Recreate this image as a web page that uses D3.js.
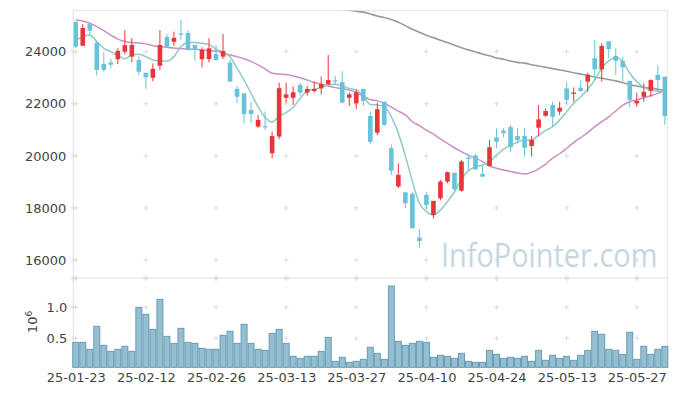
<!DOCTYPE html>
<html>
<head>
<meta charset="utf-8">
<script src="https://cdn.jsdelivr.net/npm/d3@7"></script>
<style>
  body { margin: 0; background: #fff; }
  text { font-family: "DejaVu Sans", sans-serif; }
</style>
</head>
<body>
<script>

const dates = [
  '25-01-23','25-01-24','25-01-31','25-02-03','25-02-04','25-02-05','25-02-06','25-02-07','25-02-10','25-02-11',
  '25-02-12','25-02-13','25-02-14','25-02-17','25-02-18','25-02-19','25-02-20','25-02-21','25-02-24','25-02-25',
  '25-02-26','25-02-27','25-02-28','25-03-04','25-03-05','25-03-06','25-03-07','25-03-10','25-03-11','25-03-12',
  '25-03-13','25-03-14','25-03-17','25-03-18','25-03-19','25-03-20','25-03-21','25-03-24','25-03-25','25-03-26',
  '25-03-27','25-03-28','25-03-31','25-04-01','25-04-02','25-04-03','25-04-04','25-04-07','25-04-08','25-04-09',
  '25-04-10','25-04-11','25-04-14','25-04-15','25-04-16','25-04-17','25-04-18','25-04-21','25-04-22','25-04-23',
  '25-04-24','25-04-25','25-04-28','25-04-29','25-04-30','25-05-02','25-05-07','25-05-08','25-05-09','25-05-12',
  '25-05-13','25-05-14','25-05-15','25-05-16','25-05-19','25-05-20','25-05-21','25-05-22','25-05-23','25-05-26',
  '25-05-27','25-05-28','25-05-29','25-05-30','25-06-02'
];

const opens = [
  25140,24230,25060,24350,23530,23580,23710,24000,23810,23680,
  23190,23000,23460,24560,24380,24700,24720,24260,23710,23720,
  23910,23810,23580,22570,22400,21760,21120,21140,20100,20740,
  22230,22230,22720,22430,22490,22590,22750,22900,22830,22230,
  22020,22570,21530,20890,22080,20290,18820,18600,18540,16860,
  18500,17730,18370,19010,19350,18660,19930,20010,19300,19610,
  20710,20970,21100,20760,20760,20380,21080,21540,21950,21700,
  22590,22380,22620,22850,23750,23320,24400,23840,23650,22880,
  22020,22270,22500,23110,23040
];
const highs = [
  25170,25060,25070,24350,23980,23730,24130,24830,24520,23810,
  23190,23550,24830,24680,24770,25220,24830,24260,24170,24520,
  24260,24680,23680,22680,22400,22080,21570,21700,20930,22810,
  22810,22660,22810,22680,22850,23040,23870,23070,23260,22430,
  22530,22570,21700,22040,22080,20440,19710,18620,18620,17180,
  18620,18270,19080,19400,19350,19840,20060,20070,19610,20610,
  21060,21060,21190,21060,21060,20760,21950,21830,22080,22080,
  22850,22630,22910,23190,24450,24320,24400,24130,23810,22880,
  22430,22790,22940,23490,23040
];
const lows = [
  24150,24230,24610,23080,23230,23360,23530,23900,23590,23100,
  22560,22870,23300,24130,24220,24450,24040,23650,23400,23590,
  23650,23720,22850,22020,21250,21270,21080,20990,19910,20640,
  22040,21950,22310,22310,22430,22360,22720,22720,22020,21920,
  21800,21920,20460,20800,21150,19270,18760,17990,17200,16450,
  17950,17600,18290,18950,18680,18620,19460,19460,19200,19610,
  20290,20710,20160,20480,19970,19970,20740,21500,21120,21570,
  21990,22080,22460,22460,22910,22850,23750,23110,22850,21870,
  21890,22080,22270,22460,21190
];
const closes = [
  24190,24910,24810,23300,23300,23500,24030,24250,24260,23230,
  23020,23340,24260,24190,24530,24670,24070,24070,24070,24130,
  23680,24030,22850,22270,21600,21600,21380,21100,20760,22600,
  22360,22440,22430,22570,22570,22760,22910,22870,22040,22360,
  22440,22110,20540,21790,21190,19430,19270,18180,17220,16730,
  18110,18270,19010,19370,18720,19780,19880,19480,19200,20330,
  20540,20870,20330,20610,20310,20610,21400,21720,21500,21850,
  22150,22430,22490,23110,23320,24220,24100,23650,23400,22150,
  22110,22460,22910,22910,21530
];

const volumes = [
  435000,435000,323000,694000,387000,290000,323000,371000,290000,1000000,
  887000,645000,1129000,532000,419000,661000,435000,419000,339000,323000,
  323000,548000,613000,419000,726000,419000,323000,306000,580000,645000,
  419000,210000,177000,210000,210000,290000,516000,129000,194000,113000,
  129000,161000,355000,258000,161000,1344000,452000,387000,419000,452000,
  435000,194000,226000,210000,177000,258000,129000,113000,113000,306000,
  242000,177000,194000,177000,210000,129000,306000,145000,226000,177000,
  210000,145000,226000,306000,613000,565000,323000,306000,242000,597000,
  161000,371000,242000,323000,371000
];

// moving averages (short, medium, long)
const maShort = [
  24420,24580,24640,24390,24130,24000,23850,23730,23870,23900,
  23810,23680,23640,23640,23810,24190,24350,24350,24320,24270,
  24100,23975,23810,23360,22910,22400,21890,21480,21290,21530,
  21660,21860,22210,22490,22555,22630,22720,22750,22680,22590,
  22530,22300,21970,21950,21890,21500,20870,20000,19010,18180,
  17860,17730,17920,18240,18620,19100,19430,19580,19650,19780,
  20030,20250,20410,20520,20610,20610,20800,20970,21120,21380,
  21700,22020,22270,22560,22910,23360,23650,23790,23620,23170,
  22850,22630,22530,22490,22460
];
const maMid = [
  25220,25180,25090,24960,24810,24640,24480,24390,24350,24330,
  24300,24230,24190,24170,24140,24120,24100,24090,24070,24040,
  24030,23940,23870,23810,23730,23630,23490,23340,23170,23140,
  23120,23070,23000,22910,22820,22750,22680,22620,22580,22530,
  22430,22280,22160,22110,22020,21870,21720,21570,21310,21160,
  20990,20830,20650,20480,20310,20160,20020,19910,19780,19610,
  19520,19460,19400,19340,19300,19370,19500,19680,19910,20080,
  20290,20510,20700,20890,21120,21310,21500,21720,21950,22080,
  22150,22230,22310,22400,22500
];
const maLong = [
  null,null,null,null,null,null,null,null,null,null,
  null,null,null,null,null,null,null,null,null,null,
  null,null,null,null,null,null,null,null,null,null,
  null,null,null,null,null,null,25740,25690,25640,25590,
  25550,25520,25450,25370,25310,25240,25130,25000,24860,24750,
  24630,24540,24440,24350,24250,24150,24070,23990,23910,23840,
  23760,23710,23640,23590,23560,23500,23450,23400,23350,23300,
  23250,23190,23140,23090,23030,22980,22930,22880,22810,22730,
  22680,22630,22600,22560,22500
];

const priceTicks = [16000, 18000, 20000, 22000, 24000];
const volumeTicks = [0.5, 1.0];
const dateTicks = ['25-01-23','25-02-12','25-02-26','25-03-13','25-03-27','25-04-10','25-04-24','25-05-13','25-05-27'];

function draw() {
    const width = 677, height = 396;
    const left = 73.3, right = 667.3;
    const mainTop = 10.7, mainBottom = 277.7;
    const volTop = 278.3, volBottom = 367.3;

    const upColor = '#e8343b';
    const downColor = '#68c2da';

    const svg = d3.select('body').append('svg')
        .attr('width', width)
        .attr('height', height)
        .style('display', 'block');

    const X = d3.scalePoint()
        .domain(dates)
        .range([left, right])
        .padding(0.35);
    const step = X.step();

    const Y = d3.scaleLinear()
        .domain([15320, 25574])
        .range([mainBottom, mainTop]);

    const YV = d3.scaleLinear()
        .domain([0.032, 1.468])
        .range([volBottom, volTop]);

    svg.append('clipPath').attr('id', 'clipMain')
        .append('rect')
        .attr('x', left).attr('y', mainTop)
        .attr('width', right - left).attr('height', mainBottom - mainTop);

    // panel frames
    svg.append('rect')
        .attr('x', left).attr('y', mainTop)
        .attr('width', right - left).attr('height', volBottom - mainTop)
        .attr('fill', '#fff')
        .attr('stroke', '#e3e3e3');
    svg.append('line')
        .attr('x1', left).attr('x2', right)
        .attr('y1', mainBottom + 0.3).attr('y2', mainBottom + 0.3)
        .attr('stroke', '#e3e3e3');

    // "+" marks at grid crossings
    const crossRows = priceTicks.map(v => Y(v)).concat([mainBottom, volTop + 0.6], volumeTicks.map(v => YV(v)));
    const crosses = [];
    dateTicks.forEach(d => crossRows.forEach(y => crosses.push([X(d), y])));
    crossRows.forEach(y => crosses.push([left, y]));
    svg.append('g').selectAll('path')
        .data(crosses)
        .join('path')
        .attr('d', d => `M${d[0] - 2.5},${d[1]}h5M${d[0]},${d[1] - 2.5}v5`)
        .attr('stroke', '#dcdcdc')
        .attr('stroke-width', 1);

    // watermark
    svg.append('text')
        .attr('transform', 'translate(441,267) scale(0.875,1)')
        .style('font-family', '"Open Sans", sans-serif')
        .style('font-size', '33px')
        .attr('fill', '#c6d7e2')
        .text('InfoPointer.com');

    const data = dates.map((d, i) => ({
        date: d, open: opens[i], high: highs[i], low: lows[i], close: closes[i], volume: volumes[i]
    }));

    // volume bars
    svg.append('g').selectAll('rect')
        .data(data)
        .join('rect')
        .attr('x', d => X(d.date) - step / 2 + 0.5)
        .attr('width', step - 1)
        .attr('y', d => YV(d.volume / 1e6))
        .attr('height', d => volBottom - YV(d.volume / 1e6))
        .attr('fill', '#95bfd0')
        .attr('stroke', '#5f97b1')
        .attr('stroke-width', 0.9);

    // moving averages
    const lineOf = arr => d3.line()
        .defined(d => d !== null)
        .x((d, i) => X(dates[i]))
        .y(d => Y(d))
        .curve(d3.curveMonotoneX)(arr);

    const lines = svg.append('g').attr('clip-path', 'url(#clipMain)');
    lines.append('path').attr('d', lineOf(maLong))
        .attr('fill', 'none').attr('stroke', '#9a9a9a').attr('stroke-width', 1.6);
    lines.append('path').attr('d', lineOf(maMid))
        .attr('fill', 'none').attr('stroke', '#cc8fc4').attr('stroke-width', 1.5);
    lines.append('path').attr('d', lineOf(maShort))
        .attr('fill', 'none').attr('stroke', '#8ecbc3').attr('stroke-width', 1.5);

    // candles
    const candles = svg.append('g').attr('clip-path', 'url(#clipMain)')
        .selectAll('g')
        .data(data)
        .join('g');
    candles.append('line')
        .attr('x1', d => X(d.date)).attr('x2', d => X(d.date))
        .attr('y1', d => Y(d.high)).attr('y2', d => Y(d.low))
        .attr('stroke', d => d.close >= d.open ? upColor : downColor)
        .attr('stroke-width', 1);
    candles.append('rect')
        .attr('x', d => X(d.date) - 2.3)
        .attr('width', 4.6)
        .attr('y', d => Y(Math.max(d.open, d.close)))
        .attr('height', d => Math.max(1.2, Math.abs(Y(d.open) - Y(d.close))))
        .attr('fill', d => d.close >= d.open ? upColor : downColor);

    // axes
    const yAxis = d3.axisLeft(Y).tickValues(priceTicks).tickFormat(d3.format('d')).tickSize(0).tickPadding(7);
    svg.append('g')
        .attr('transform', `translate(${left},0)`)
        .call(yAxis)
        .call(g => g.select('.domain').remove())
        .call(g => g.selectAll('text').attr('fill', '#444').style('font-size', '13px'));

    const vAxis = d3.axisLeft(YV).tickValues(volumeTicks).tickFormat(d3.format('.1f')).tickSize(0).tickPadding(6);
    svg.append('g')
        .attr('transform', `translate(${left},0)`)
        .call(vAxis)
        .call(g => g.select('.domain').remove())
        .call(g => g.selectAll('text').attr('fill', '#444').style('font-size', '13px'));

    const xAxis = d3.axisBottom(X).tickValues(dateTicks).tickSize(0).tickPadding(5);
    svg.append('g')
        .attr('transform', `translate(0,${volBottom})`)
        .call(xAxis)
        .call(g => g.select('.domain').remove())
        .call(g => g.selectAll('text').attr('fill', '#444').style('font-size', '13px'));

    const unit = svg.append('text')
        .attr('transform', 'translate(37,322) rotate(-90)')
        .attr('text-anchor', 'middle')
        .attr('fill', '#444')
        .style('font-size', '13px');
    unit.append('tspan').text('10');
    unit.append('tspan').attr('dy', -5).style('font-size', '9px').text('6');
}

draw();
</script>
</body>
</html>
